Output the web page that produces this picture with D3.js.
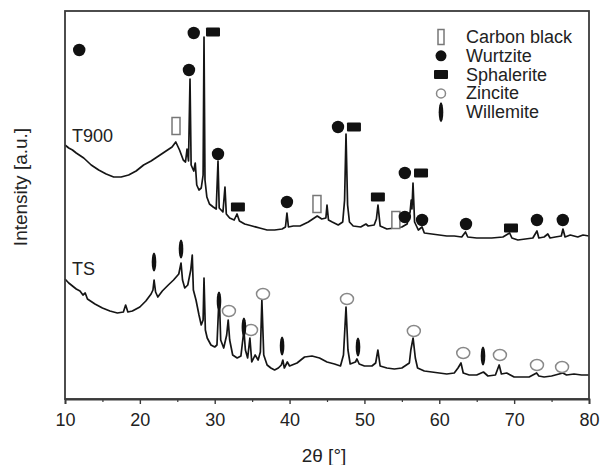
<!DOCTYPE html>
<html>
<head>
<meta charset="utf-8">
<script src="https://cdn.jsdelivr.net/npm/d3@7"></script>
<style>
  html, body { margin: 0; padding: 0; background: #fff; }
  svg { display: block; }
  text { font-family: "Liberation Sans", Arial, Helvetica, sans-serif; fill: #222; }
</style>
</head>
<body>
<svg id="chart" width="600" height="465"></svg>
<script>
// ---------- DATA ----------
const xTicks = [10, 20, 30, 40, 50, 60, 70, 80];
const xMinorTicks = [15, 25, 35, 45, 55, 65, 75];

// T900 pattern: [2θ, intensity a.u.]
const t900 = [[10.0,254],[10.5,251],[11.0,249],[11.5,246],[12.5,241],[13.5,234],[14.5,229],[15.5,225],[16.5,222],[17.5,222],[18.5,224],[19.5,228],[20.5,234],[21.5,238],[22.5,243],[23.5,248],[24.3,252],[24.8,257],[25.3,249],[25.8,239],[26.1,237],[26.3,250],[26.5,238],[26.7,320],[26.85,234],[27.2,228],[27.4,236],[27.6,214],[27.9,209],[28.2,211],[28.45,224],[28.57,362],[28.7,219],[28.95,202],[29.3,195],[29.8,192],[30.2,190],[30.44,238],[30.6,191],[31.1,187],[31.37,212],[31.55,185],[32.0,181],[32.6,179],[32.98,185],[33.3,178],[34.0,175],[35.0,173],[36.0,171],[37.0,169],[38.0,169],[39.0,170],[39.45,172],[39.65,186],[39.85,172],[40.5,173],[41.4,173],[42.5,177],[43.3,181],[43.7,183],[44.3,180],[44.85,181],[45.0,194],[45.2,179],[45.7,177],[46.5,174],[47.1,177],[47.35,199],[47.54,265],[47.75,194],[48.0,177],[48.5,173],[49.5,172],[50.2,175],[50.5,173],[51.3,174],[51.6,180],[51.81,194],[52.1,173],[53.0,170],[54.0,171],[55.0,172],[55.7,175],[56.1,187],[56.25,199],[56.35,190],[56.49,216],[56.7,177],[57.2,169],[57.7,172],[58.0,166],[59.0,165],[60.0,164],[61.0,163],[62.0,163],[63.0,162],[63.5,167],[63.8,162],[65.0,161],[66.0,161],[67.0,161],[68.5,162],[69.4,166],[69.7,161],[70.5,159],[71.5,160],[72.5,161],[73.05,168],[73.3,161],[74.0,162],[74.5,165],[74.8,161],[75.5,162],[76.3,163],[76.52,170],[76.8,162],[77.5,164],[78.5,162],[79.2,164],[80,163]];

// TS pattern: [2θ, intensity a.u.]
const ts = [[10.0,120],[10.5,116],[11.0,113],[11.5,110],[12.0,108],[12.4,104],[12.7,106],[13.0,100],[14.0,95],[15.0,91],[16.0,88],[17.0,86],[17.8,87],[18.1,94],[18.4,87],[19.0,88],[20.0,92],[20.8,98],[21.5,105],[21.75,109],[21.9,119],[22.1,107],[22.4,102],[23.0,108],[23.8,114],[24.5,119],[25.2,125],[25.5,136],[25.7,119],[26.0,111],[26.4,114],[26.8,129],[27.0,144],[27.15,109],[27.5,99],[27.9,84],[28.2,74],[28.45,79],[28.57,121],[28.75,69],[29.0,61],[29.5,54],[30.0,52],[30.3,54],[30.6,106],[30.8,59],[31.2,51],[31.6,64],[31.8,79],[32.0,59],[32.4,44],[33.0,41],[33.5,43],[33.9,69],[34.1,49],[34.4,41],[34.7,61],[34.95,37],[35.4,44],[35.8,39],[36.1,47],[36.3,99],[36.55,44],[37.0,34],[37.5,31],[38.0,29],[38.5,31],[38.9,34],[39.1,39],[39.3,31],[39.7,37],[40.0,33],[41.0,36],[42.0,42],[43.0,43],[44.0,41],[45.0,37],[46.0,35],[46.8,33],[47.2,44],[47.54,92],[47.8,49],[48.1,35],[48.8,37],[49.0,40],[49.3,35],[50.0,33],[51.0,33],[51.5,36],[51.8,49],[52.1,33],[53.0,31],[54.0,30],[55.0,31],[56.0,36],[56.2,49],[56.5,61],[56.8,41],[57.1,31],[58.0,28],[59.0,27],[60.0,26],[61.0,25],[62.0,26],[62.5,31],[62.9,36],[63.2,26],[64.0,24],[65.0,24],[65.9,27],[66.5,23],[67.5,24],[68.0,34],[68.3,25],[69.0,26],[70.0,22],[71.0,22],[72.0,22],[73.0,26],[73.3,23],[74.0,22],[75.0,23],[76.0,25],[76.5,26],[77.0,24],[78.0,25],[79.0,24],[80.0,24]];

// Phase markers: [2θ, intensity a.u.]
const wurtziteMarks = [[11.9,349],[27.2,366],[26.56,329],[30.44,245],[39.65,197],[46.47,272],[55.4,182],[55.4,226],[57.7,179],[63.57,175],[73.05,179],[76.5,179]];
const sphaleriteMarks = [[29.77,367],[33.1,192],[48.6,272],[51.8,202],[57.56,226],[69.58,171]];
const carbonMarks = [[24.83,273],[43.66,195],[54.2,179]];
const willemiteMarks = [[21.89,137],[25.5,150],[30.57,98],[33.9,72],[39.0,53],[49.14,52],[65.84,43]];
const zinciteMarks = [[31.9,88],[34.85,69],[36.45,105],[47.67,100],[56.6,68],[63.2,46],[68.1,44],[73.05,34],[76.4,32]];

const legendItems = ["Carbon black", "Wurtzite", "Sphalerite", "Zincite", "Willemite"];
const sampleLabels = ["T900", "TS"];
const sampleLabelPos = [[10.93, 257], [10.93, 124]];

// ---------- LAYOUT ----------
const svg = d3.select("#chart");
const margin = { left: 65, right: 11, top: 11, bottom: 66 };
const W = 600, H = 465;
const x = d3.scaleLinear().domain([10, 80]).range([margin.left, W - margin.right]);
const y = d3.scaleLinear().domain([0, 388]).range([H - margin.bottom, margin.top]);

// patterns
const line = d3.line().x(d => x(d[0])).y(d => y(d[1]));
[t900, ts].forEach(s => {
  svg.append("path").datum(s).attr("d", line)
    .attr("fill", "none").attr("stroke", "#151515")
    .attr("stroke-width", 1.7).attr("stroke-linejoin", "round");
});

// marker drawing
function drawMarker(g, type, cx, cy, legend) {
  if (type === "Wurtzite") {
    g.append("circle").attr("cx", cx).attr("cy", cy).attr("r", legend ? 5.5 : 6.2).attr("fill", "#111");
  } else if (type === "Sphalerite") {
    g.append("rect").attr("x", cx - 7).attr("y", cy - 4.5).attr("width", 14).attr("height", 9)
      .attr("rx", 1).attr("fill", "#111");
  } else if (type === "Carbon black") {
    const w = legend ? 6 : 8, h = legend ? 15 : 17;
    g.append("rect").attr("x", cx - w / 2).attr("y", cy - h / 2).attr("width", w).attr("height", h)
      .attr("fill", "#fff").attr("stroke", "#777").attr("stroke-width", 1.5);
  } else if (type === "Zincite") {
    const rx = legend ? 4.5 : 6.5, ry = legend ? 4.5 : 5.5;
    g.append("ellipse").attr("cx", cx).attr("cy", cy).attr("rx", rx).attr("ry", ry)
      .attr("fill", "#fff").attr("stroke", "#888").attr("stroke-width", 1.5);
  } else if (type === "Willemite") {
    g.append("ellipse").attr("cx", cx).attr("cy", cy).attr("rx", 2.3).attr("ry", legend ? 10 : 9.5)
      .attr("fill", "#111");
  }
}

const mg = svg.append("g");
const markerSets = [["Carbon black", carbonMarks], ["Wurtzite", wurtziteMarks], ["Sphalerite", sphaleriteMarks],
                    ["Zincite", zinciteMarks], ["Willemite", willemiteMarks]];
markerSets.forEach(([type, arr]) => arr.forEach(d => drawMarker(mg, type, x(d[0]), y(d[1]), false)));

// frame
svg.append("rect")
  .attr("x", margin.left).attr("y", margin.top)
  .attr("width", W - margin.left - margin.right).attr("height", H - margin.top - margin.bottom)
  .attr("fill", "none").attr("stroke", "#3a3a3a").attr("stroke-width", 1.8);

// x axis
const axisG = svg.append("g").attr("transform", `translate(0,${H - margin.bottom})`)
  .call(d3.axisBottom(x).tickValues(xTicks).tickSize(5).tickPadding(9).tickFormat(d3.format("d")));
axisG.select(".domain").attr("stroke", "#3a3a3a").attr("stroke-width", 1.8);
axisG.selectAll(".tick line").attr("stroke", "#3a3a3a").attr("stroke-width", 1.4);
axisG.selectAll(".tick text").attr("font-size", 18).attr("fill", "#222")
  .attr("font-family", "'Liberation Sans', Arial, sans-serif");
svg.append("g").attr("transform", `translate(0,${H - margin.bottom})`)
  .call(d3.axisBottom(x).tickValues(xMinorTicks).tickSize(3).tickFormat(""))
  .call(g => g.select(".domain").remove())
  .selectAll(".tick line").attr("stroke", "#3a3a3a").attr("stroke-width", 1.2);

// axis titles
svg.append("text").attr("x", 324).attr("y", 462).attr("text-anchor", "middle")
  .attr("font-size", 19).text("2θ [°]");
svg.append("text").attr("transform", "translate(27,187) rotate(-90)").attr("text-anchor", "middle")
  .attr("font-size", 19).text("Intensity [a.u.]");

// sample labels
sampleLabels.forEach((s, i) => {
  svg.append("text").attr("x", x(sampleLabelPos[i][0])).attr("y", y(sampleLabelPos[i][1]))
    .attr("font-size", 18).text(s);
});

// legend
const lg = svg.append("g");
legendItems.forEach((name, i) => {
  const cy = 37 + i * 18.8;
  drawMarker(lg, name, 441, cy, true);
  lg.append("text").attr("x", 466).attr("y", cy + 6).attr("font-size", 18).text(name);
});
</script>
</body>
</html>
